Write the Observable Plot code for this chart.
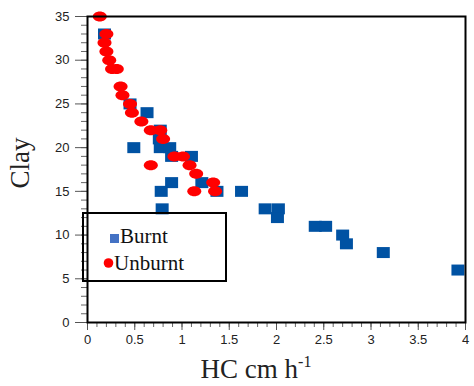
<!DOCTYPE html>
<html><head><meta charset="utf-8">
<script src="https://cdn.jsdelivr.net/npm/d3@7"></script>
<script src="https://cdn.jsdelivr.net/npm/@observablehq/plot@0.6"></script>
<style>body{margin:0;background:#fff}</style>
</head><body><div id="chart"></div>
<script>
// Data
const burntHC   = [0.18,0.45,0.63,0.77,0.76,0.49,0.77,0.87,0.89,1.10,0.89,1.21,0.78,1.37,1.63,0.79,1.88,2.02,2.01,2.41,2.52,2.70,2.74,3.13,3.92];
const burntClay = [33,  25,  24,  22,  21,  20,  20,  20,  19,  19,  16,  16,  15,  15,  15,  13,  13,  13,  12,  11,  11,  10,  9,   8,   6];
const unburntHC   = [0.13,0.20,0.18,0.20,0.23,0.26,0.31,0.35,0.37,0.45,0.47,0.57,0.67,0.77,0.80,0.92,1.01,1.08,1.15,1.33,1.35,1.13,0.67];
const unburntClay = [35,  33,  32,  31,  30,  29,  29,  27,  26,  25,  24,  23,  22,  22,  21,  19,  19,  18,  17,  16,  15,  15,  18];
const seriesNames = ["Burnt", "Unburnt"];
const xTicks = [0,0.5,1,1.5,2,2.5,3,3.5,4];
const xTickLabels = ["0","0.5","1","1.5","2","2.5","3","3.5","4"];
const yTicks = [0,5,10,15,20,25,30,35];
const yTickLabels = ["0","5","10","15","20","25","30","35"];
const xLabel = "HC cm h";
const xLabelSup = "-1";
const yLabel = "Clay";

const burnt = burntHC.map((x, i) => ({x, y: burntClay[i]}));
const unburnt = unburntHC.map((x, i) => ({x, y: unburntClay[i]}));

const rectSymbol = {draw(ctx, size) {
  const r = Math.sqrt(size / Math.PI), w = r * 1.3, h = r * 1.1;
  ctx.moveTo(-w, -h); ctx.lineTo(w, -h); ctx.lineTo(w, h); ctx.lineTo(-w, h); ctx.closePath();
}};
const ellipseSymbol = {draw(ctx, size) {
  const r = Math.sqrt(size / Math.PI), rx = r * 1.4, ry = r, k = 0.5523;
  ctx.moveTo(rx, 0);
  ctx.bezierCurveTo(rx, k * ry, k * rx, ry, 0, ry);
  ctx.bezierCurveTo(-k * rx, ry, -rx, k * ry, -rx, 0);
  ctx.bezierCurveTo(-rx, -k * ry, -k * rx, -ry, 0, -ry);
  ctx.bezierCurveTo(k * rx, -ry, rx, -k * ry, rx, 0);
  ctx.closePath();
}};

const tickFont = "'Liberation Sans', Arial, sans-serif";
const chart = Plot.plot({
  width: 474, height: 386,
  marginLeft: 87, marginRight: 9, marginTop: 16, marginBottom: 64,
  style: {background: "white", fontFamily: tickFont},
  x: {domain: [0, 4]},
  y: {domain: [0, 35]},
  marks: [
    Plot.axisX(d3.range(0, 40.5, 1).map(d => d / 10), {tickSize: 5, tickFormat: () => "", label: null, stroke: "#666"}),
    Plot.axisX(xTicks, {tickSize: 8, tickPadding: 4, tickFormat: d => xTickLabels[xTicks.indexOf(d)], fontSize: 13, label: null, stroke: "#555", fill: "#222"}),
    Plot.axisY(d3.range(0, 36, 1), {tickSize: 6, tickFormat: () => "", label: null, stroke: "#666"}),
    Plot.axisY(yTicks, {tickSize: 12, tickPadding: 6, tickFormat: d => yTickLabels[yTicks.indexOf(d)], fontSize: 13, label: null, stroke: "#555", fill: "#222"}),
    Plot.dot(burnt, {x: "x", y: "y", r: 5, symbol: rectSymbol, fill: "#0052a3", stroke: "none"}),
    Plot.dot(unburnt, {x: "x", y: "y", r: 5, symbol: ellipseSymbol, fill: "#ff0000", stroke: "none"}),
    Plot.frame({stroke: "black", strokeWidth: 2})
  ]
});
document.getElementById("chart").appendChild(chart);

const svg = d3.select(chart);
const serif = "'Liberation Serif', 'Times New Roman', serif";
svg.append("text").attr("transform", "translate(29,163) rotate(-90)")
  .attr("text-anchor", "middle").attr("fill", "#222")
  .style("font-family", serif).style("font-size", "27px").text(yLabel);
const xl = svg.append("text").attr("x", 256).attr("y", 378)
  .attr("text-anchor", "middle").attr("fill", "#222")
  .style("font-family", serif).style("font-size", "27px");
xl.append("tspan").text(xLabel);
xl.append("tspan").attr("dy", -11).style("font-size", "16px").text(xLabelSup);

// Legend
const lg = svg.append("g").attr("text-anchor", "start");
lg.append("rect").attr("x", 83).attr("y", 213).attr("width", 143).attr("height", 68)
  .attr("fill", "none").attr("stroke", "black").attr("stroke-width", 2);
lg.append("rect").attr("x", 110).attr("y", 234).attr("width", 9).attr("height", 9).attr("fill", "#4472c4");
lg.append("text").attr("x", 120).attr("y", 243).attr("fill", "#111").attr("text-anchor", "start")
  .style("font-family", serif).style("font-size", "21px").text(seriesNames[0]);
lg.append("circle").attr("cx", 108.5).attr("cy", 263).attr("r", 4.8).attr("fill", "#ff0000");
lg.append("text").attr("x", 114).attr("y", 270).attr("fill", "#111").attr("text-anchor", "start")
  .style("font-family", serif).style("font-size", "21px").text(seriesNames[1]);
</script>
</body></html>
